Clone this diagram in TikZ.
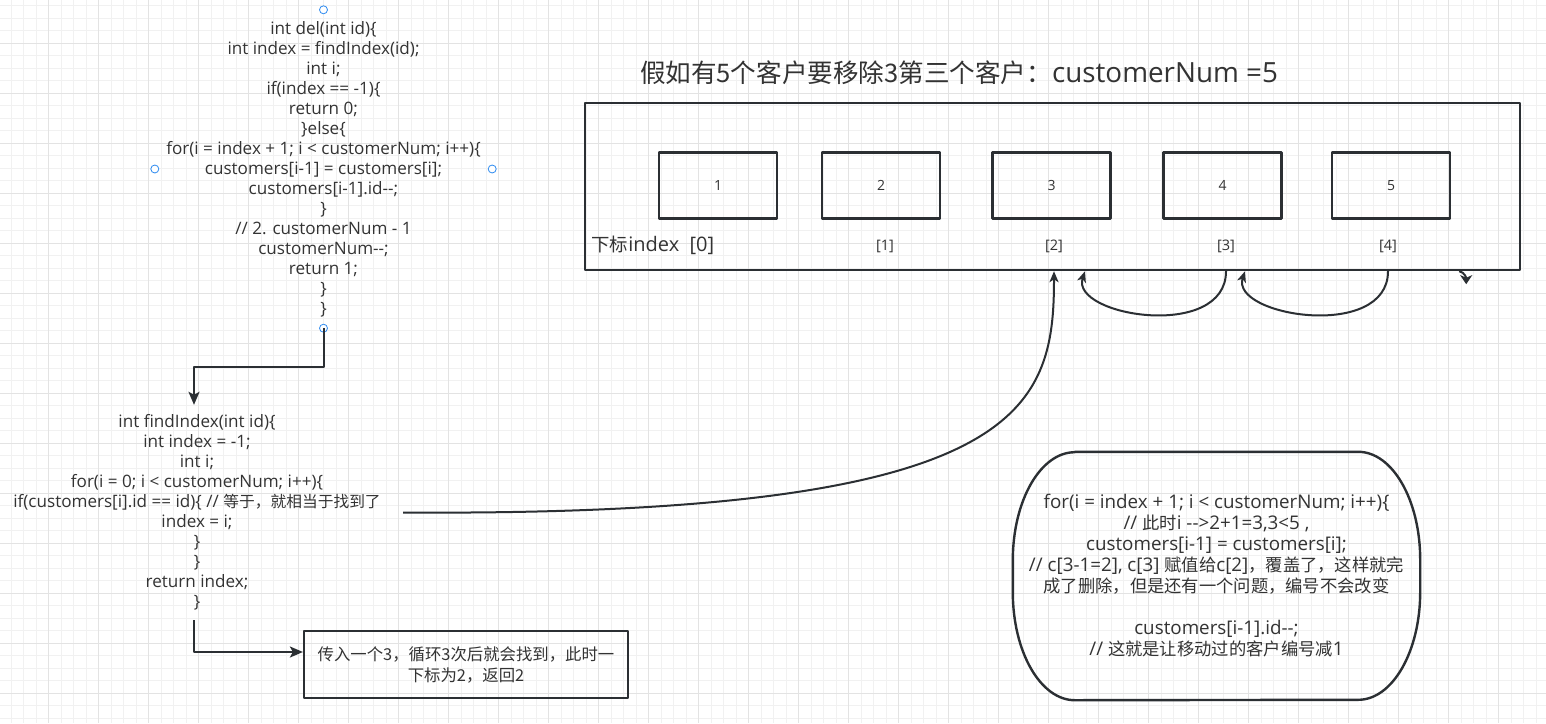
\documentclass[tikz,border=0pt]{standalone}
\usepackage{fontspec}
\setmainfont{Open Sans}[Ligatures=TeXOff]
\newfontfamily\cjk{Noto Sans CJK SC}[Scale=0.92]
\usetikzlibrary{arrows.meta}

\definecolor{ink}{HTML}{2B2F33}
\definecolor{txt}{HTML}{333333}
\definecolor{gridminor}{HTML}{F1F1F1}
\definecolor{gridmajor}{HTML}{E3E3E3}
\definecolor{handleblue}{HTML}{2E8BF0}

\tikzset{
  codetext/.style={align=center, text=txt, inner sep=0pt,
    font=\fontsize{17.1}{20}\selectfont},
  cell/.style={draw=ink, line width=2.2pt, minimum width=118pt, minimum height=66pt,
    text=txt, font=\fontsize{14}{16}\selectfont},
  idxlabel/.style={text=txt, font=\fontsize{14.5}{16}\selectfont},
  flow/.style={draw=ink, line width=2pt,
    -{Stealth[length=11pt, width=9pt, inset=3pt]}},
  handle/.style={draw=handleblue, fill=white, line width=0.8pt},
}

\begin{document}
\begin{tikzpicture}[x=1pt, y=-1pt, line join=round]
\useasboundingbox (0,0) rectangle (1546,723);
\fill[white] (0,0) rectangle (1546,723);
% background grid
\foreach \gx in {-1.5,11,...,1546} \draw[gridminor, line width=0.8pt] (\gx,0) -- (\gx,723);
\foreach \gy in {-6.7,5.8,...,723} \draw[gridminor, line width=0.8pt] (0,\gy) -- (1546,\gy);
\foreach \gx in {48.5,98.5,...,1546} \draw[gridmajor, line width=0.8pt] (\gx,0) -- (\gx,723);
\foreach \gy in {43.3,93.3,...,723} \draw[gridmajor, line width=0.8pt] (0,\gy) -- (1546,\gy);

% del() source
\node[codetext, minimum width=337pt, minimum height=318pt] (del) at (323.5,169) {%
int del(int id)\{\\
int index = findIndex(id);\\
int i;\\
if(index == -1)\{\\
return 0;\\
\}else\{\\
for(i = index + 1; i < customerNum; i++)\{\\
customers[i-1] = customers[i];\\
customers[i-1].id--;\\
\}\\
// 2. customerNum - 1\\
customerNum--;\\
return 1;\\
\}\\
\}};
\foreach \an in {north,south,east,west} \draw[handle] (del.\an) circle (4pt);

% findIndex() source
\node[codetext, minimum width=408pt, minimum height=215pt] (find) at (197,512.5) {%
int findIndex(int id)\{\\
int index = -1;\\
int i;\\
for(i = 0; i < customerNum; i++)\{\\
if(customers[i].id == id)\{ // {\cjk 等于，就相当于找到了}\\
index = i;\\
\}\\
\}\\
return index;\\
\}};

% note under findIndex
\node[draw=ink, line width=2.2pt, minimum width=324pt, minimum height=67pt, align=center,
  text=txt, font=\cjk\fontsize{17.8}{21}\selectfont] (note) at (466,664.5)
  {传入一个3，循环3次后就会找到，此时一\\下标为2，返回2};

% title
\node[text=txt, font=\fontsize{27.8}{30}\selectfont] (title) at (959,73)
  {{\cjk 假如有5个客户要移除3第三个客户：}customerNum =5};

% array
\node[draw=ink, line width=2.4pt, minimum width=935pt, minimum height=167pt] (arr) at (1052.5,186.5) {};
\node[cell] (c1) at (718,185.5) {1};
\node[cell] (c2) at (881,185.5) {2};
\node[cell] (c3) at (1051.5,185.5) {3};
\node[cell] (c4) at (1222.5,185.5) {4};
\node[cell] (c5) at (1391,185.5) {5};
\node[text=txt, anchor=west, font=\fontsize{20}{22}\selectfont] (lab0) at (588,245) {{\cjk 下标}index\ \ [0]};
\node[idxlabel] (lab1) at (885,246) {[1]};
\node[idxlabel] (lab2) at (1054,246) {[2]};
\node[idxlabel] (lab3) at (1226,246) {[3]};
\node[idxlabel] (lab4) at (1388,246) {[4]};

% loop explanation
\node[minimum width=407pt, minimum height=248pt,
  align=center, text=txt, font=\fontsize{18.8}{21}\selectfont] (loop) at (1216.5,576) {%
for(i = index + 1; i < customerNum; i++)\{\\
// {\cjk 此时}i -->2+1=3,3<5 ,\\
customers[i-1] = customers[i];\\
// c[3-1=2], c[3] {\cjk 赋值给}c[2]{\cjk ，覆盖了，这样就完}\\
{\cjk 成了删除，但是还有一个问题，编号不会改变}\\[21pt]
customers[i-1].id--;\\
// {\cjk 这就是让移动过的客户编号减}1};
\draw[ink, line width=2.4pt] ([xshift=62pt]loop.north west) -- ([xshift=-62pt]loop.north east)
  arc[start angle=90, end angle=0, x radius=62pt, y radius=108pt] -- ++(0,32)
  arc[start angle=0, end angle=-90, x radius=62pt, y radius=108pt] -- ([xshift=62pt]loop.south west)
  arc[start angle=270, end angle=180, x radius=62pt, y radius=108pt] -- ++(0,-32)
  arc[start angle=180, end angle=90, x radius=62pt, y radius=108pt] -- cycle;

% connectors
\draw[flow, -{Stealth[length=13pt, width=11pt, inset=3pt]}] (del.south) -- ++(0,39) -| ([xshift=-3pt]find.north);
\draw[flow, -{Stealth[length=13pt, width=11pt, inset=3pt]}] ([xshift=-3pt]find.south) |- ([yshift=12.5pt]note.west);
\draw[flow] ([xshift=2pt]find.east) .. controls +(620,4) and +(0,140) .. (lab2 |- arr.south);
\coordinate (from3) at (lab3 |- arr.south);
\coordinate (to2) at ([xshift=31pt]lab2 |- arr.south);
\coordinate (from4) at (lab4 |- arr.south);
\coordinate (to3) at ([xshift=19pt]lab3 |- arr.south);
\draw[flow] (from3) .. controls +(0,70) and +(-15,45) .. (to2);
\draw[flow] (from4) .. controls +(0,70) and +(-15,45) .. (to3);
\coordinate (stray) at ([xshift=-62pt]arr.south east);
\draw[flow, -{Stealth[length=9pt, width=12pt, inset=2.5pt]}] (stray) to[out=-10, in=90] ++(7,13);
\end{tikzpicture}
\end{document}
